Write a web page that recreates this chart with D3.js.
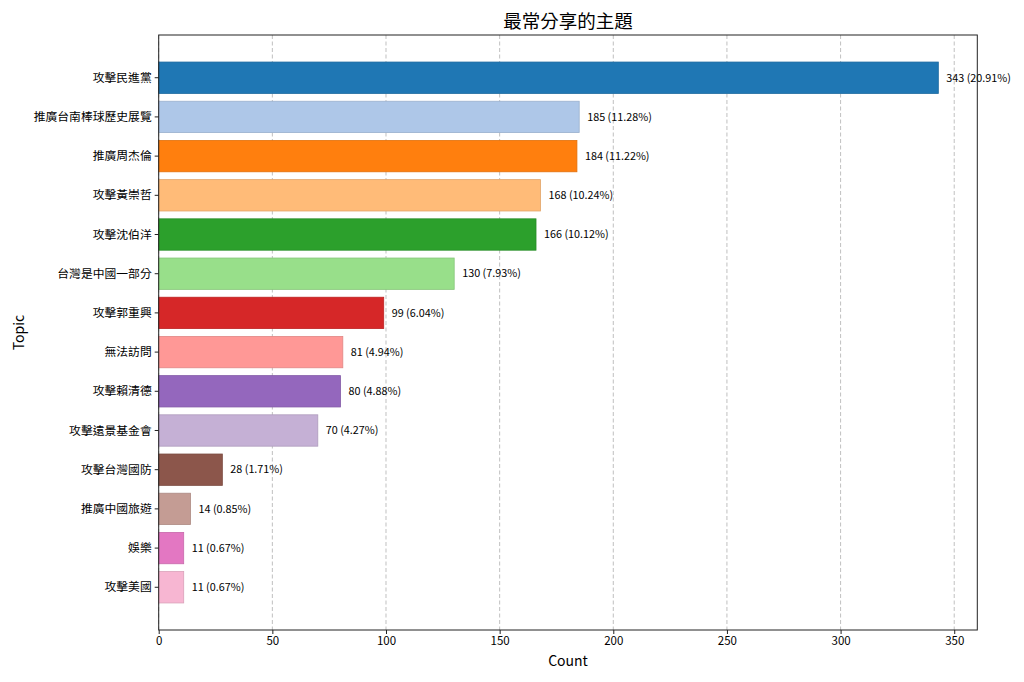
<!DOCTYPE html>
<html><head><meta charset="utf-8">
<script src="https://cdn.jsdelivr.net/npm/d3@7"></script>
<style>
html,body{margin:0;padding:0;background:#fff;}
text{font-family:"Noto Sans CJK TC","Noto Sans CJK SC","Noto Sans",sans-serif;}
</style></head>
<body><svg id="chart" width="1024" height="682"></svg>
<script>
const topics = ["攻擊民進黨","推廣台南棒球歷史展覽","推廣周杰倫","攻擊黃崇哲","攻擊沈伯洋","台灣是中國一部分","攻擊郭重興","無法訪問","攻擊賴清德","攻擊遠景基金會","攻擊台灣國防","推廣中國旅遊","娛樂","攻擊美國"];
const counts = [343,185,184,168,166,130,99,81,80,70,28,14,11,11];
const percents = ["20.91%","11.28%","11.22%","10.24%","10.12%","7.93%","6.04%","4.94%","4.88%","4.27%","1.71%","0.85%","0.67%","0.67%"];
const colors = ["#1f77b4","#aec7e8","#ff7f0e","#ffbb78","#2ca02c","#98df8a","#d62728","#ff9896","#9467bd","#c5b0d5","#8c564b","#c49c94","#e377c2","#f7b6d2"];
const xTicks = [0,50,100,150,200,250,300,350];
const title = "最常分享的主題";
const xLabel = "Count";
const yLabel = "Topic";

const svg = d3.select("#chart");
const L = 158.7, R = 977.3, T = 35, B = 630;
const x = d3.scaleLinear().domain([0, d3.max(counts) * 1.05]).range([L, R]);
const n = topics.length;
const y = d3.scaleLinear().domain([-1.09, n - 1 + 1.09]).range([T, B]);
const step = y(1) - y(0);
const bh = step * 0.8;

// grid
svg.append("g").selectAll("line").data(xTicks).join("line")
  .attr("x1", d => x(d)).attr("x2", d => x(d)).attr("y1", T).attr("y2", B)
  .attr("stroke", "#b0b0b0").attr("stroke-width", 0.8).attr("stroke-dasharray", "4,2.5");

// bars
svg.append("g").selectAll("rect").data(counts).join("rect")
  .attr("x", x(0))
  .attr("y", (d, i) => y(i) - bh / 2)
  .attr("width", d => x(d) - x(0))
  .attr("height", bh)
  .attr("fill", (d, i) => colors[i])
  .attr("stroke", (d, i) => d3.color(colors[i]).darker(0.35).formatHex()).attr("stroke-width", 0.8);

// value labels
svg.append("g").selectAll("text").data(counts).join("text")
  .attr("x", d => x(d) + 8)
  .attr("y", (d, i) => y(i))
  .attr("dy", "0.35em")
  .attr("font-size", 10.8)
  .attr("fill", "#000")
  .text((d, i) => `${d} (${percents[i]})`);

// spines
svg.append("rect").attr("x", L).attr("y", T).attr("width", R - L).attr("height", B - T)
  .attr("fill", "none").attr("stroke", "#222").attr("stroke-width", 1);

// x axis
const xAxis = svg.append("g").attr("transform", `translate(0,${B})`)
  .call(d3.axisBottom(x).tickValues(xTicks).tickSize(4).tickPadding(3).tickFormat(d3.format("d")));
xAxis.select(".domain").remove();
xAxis.selectAll("line").attr("stroke", "#222");
xAxis.selectAll("text").attr("font-size", 11.5).attr("fill", "#000");

// y axis
const yAxis = svg.append("g").attr("transform", `translate(${L},0)`);
yAxis.selectAll("line").data(topics).join("line")
  .attr("x1", -4).attr("x2", 0).attr("y1", (d, i) => y(i)).attr("y2", (d, i) => y(i))
  .attr("stroke", "#222");
yAxis.selectAll("text").data(topics).join("text")
  .attr("x", -7).attr("y", (d, i) => y(i)).attr("dy", "0.35em")
  .attr("text-anchor", "end").attr("font-size", 11.8).attr("fill", "#000")
  .text(d => d);

// titles
svg.append("text").attr("x", (L + R) / 2).attr("y", 28).attr("text-anchor", "middle")
  .attr("font-size", 18.5).attr("fill", "#000").text(title);
svg.append("text").attr("x", (L + R) / 2).attr("y", 666).attr("text-anchor", "middle")
  .attr("font-size", 14).attr("fill", "#000").text(xLabel);
svg.append("text").attr("transform", `translate(24,${(T + B) / 2}) rotate(-90)`).attr("text-anchor", "middle")
  .attr("font-size", 14).attr("fill", "#000").text(yLabel);
</script></body></html>
